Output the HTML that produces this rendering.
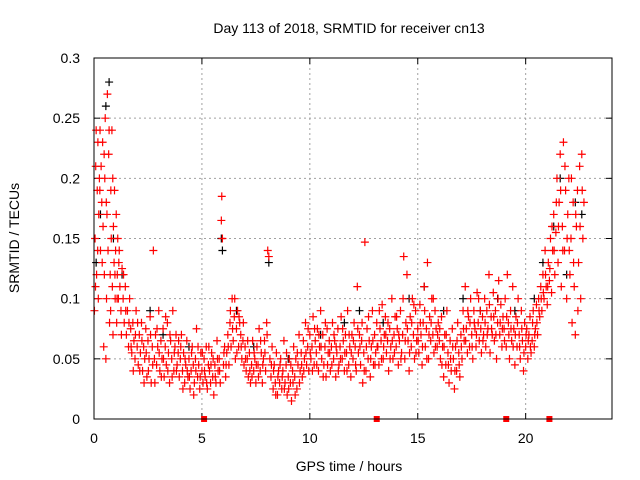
<!DOCTYPE html>
<html><head><meta charset="utf-8"><style>
html,body{margin:0;padding:0;background:#fff;}
svg{display:block;font-family:"Liberation Sans",sans-serif;}
</style></head><body>
<svg id="chart" width="640" height="480" viewBox="0 0 640 480">
<text x="349" y="33" font-size="14" text-anchor="middle">Day 113 of 2018, SRMTID for receiver cn13</text>
<text x="349" y="471" font-size="14" text-anchor="middle">GPS time / hours</text>
<text transform="translate(19,238) rotate(-90)" font-size="14" text-anchor="middle">SRMTID / TECUs</text>
<g id="grid"></g>
<g id="ticks"></g>
<g id="black"></g>
<g id="red"></g>
<g id="marks"></g>
<rect x="94" y="58" width="518" height="361" fill="none" stroke="#000" stroke-width="1"/>
</svg>
<script>
const xTicks=[0,5,10,15,20];
const yTicks=[0,0.05,0.1,0.15,0.2,0.25,0.3];
const yTickLabels=["0","0.05","0.1","0.15","0.2","0.25","0.3"];
const gapMarkers=[5.1,13.1,19.1,21.1];
const blackSeries=[[0.1,0.13],[0.3,0.17],[0.55,0.26],[0.7,0.28],[0.9,0.15],[1.3,0.12],[2.6,0.09],[3.2,0.07],[4.4,0.06],[5.9,0.15],[5.95,0.14],[6.6,0.09],[7.4,0.06],[8.1,0.13],[9.0,0.05],[10.5,0.07],[11.6,0.08],[12.3,0.09],[13.4,0.08],[14.6,0.1],[15.3,0.11],[16.2,0.09],[17.1,0.1],[17.9,0.09],[18.7,0.1],[19.5,0.09],[20.4,0.1],[20.8,0.13],[21.3,0.16],[21.6,0.2],[21.9,0.12],[22.3,0.18],[22.6,0.17]];
const redSeries=[
[0.02,0.09],[0.05,0.15],[0.08,0.21],[0.1,0.24],[0.12,0.12],[0.15,0.19],[0.18,0.23],[0.2,0.1],[0.22,0.17],[0.25,0.2],[0.28,0.24],[0.3,0.14],[0.33,0.21],[0.36,0.18],[0.4,0.23],[0.42,0.16],[0.45,0.06],[0.48,0.12],[0.5,0.2],[0.52,0.25],[0.55,0.05],[0.58,0.1],[0.6,0.17],[0.62,0.27],[0.65,0.14],[0.68,0.22],[0.7,0.24],[0.72,0.08],[0.75,0.12],[0.78,0.19],[0.8,0.15],[0.83,0.24],[0.85,0.11],[0.88,0.07],[0.9,0.16],[0.93,0.13],[0.95,0.19],[0.98,0.1],[1.0,0.14],[1.03,0.17],[1.05,0.08],[1.08,0.12],[1.1,0.15],[1.13,0.1],[1.15,0.13],[1.2,0.11],[1.25,0.09],[1.3,0.125],[1.35,0.1],[1.4,0.08],[1.45,0.11],[1.5,0.07],
[1.55,0.09],[1.6,0.06],[1.65,0.1],[1.7,0.075],[1.75,0.055],[1.8,0.08],[1.85,0.065],[1.9,0.05],[1.95,0.09],[2.0,0.06],[2.05,0.045],[2.1,0.07],[2.15,0.055],[2.2,0.08],[2.25,0.04],[2.3,0.06],[2.35,0.05],[2.4,0.075],[2.45,0.035],[2.5,0.065],[2.55,0.05],[2.6,0.085],[2.65,0.03],[2.7,0.06],[2.75,0.14],[2.8,0.05],[2.85,0.07],[2.9,0.045],[2.95,0.06],[3.0,0.09],[3.05,0.04],[3.1,0.065],[3.15,0.05],[3.2,0.075],[3.25,0.035],[3.3,0.06],[3.35,0.045],[3.4,0.08],[3.45,0.055],[3.5,0.03],[3.55,0.065],[3.6,0.05],[3.65,0.09],[3.7,0.04],[3.75,0.06],[3.8,0.07],[3.85,0.045],[3.9,0.055],[3.95,0.035],
[4.0,0.05],[4.05,0.07],[4.1,0.04],[4.15,0.055],[4.2,0.03],[4.25,0.045],[4.3,0.065],[4.35,0.035],[4.4,0.05],[4.45,0.025],[4.5,0.04],[4.55,0.06],[4.6,0.045],[4.65,0.03],[4.7,0.05],[4.75,0.075],[4.8,0.035],[4.85,0.045],[4.9,0.025],[4.95,0.055],[5.0,0.04],[5.05,0.03],[5.1,0.05],[5.15,0.035],[5.2,0.06],[5.25,0.025],[5.3,0.045],[5.35,0.04],[5.4,0.03],[5.45,0.055],[5.5,0.035],[5.55,0.02],[5.6,0.045],[5.65,0.03],[5.7,0.065],[5.75,0.04],[5.8,0.05],[5.85,0.03],[5.9,0.165],[5.92,0.185],[5.95,0.15],[6.0,0.045],[6.05,0.06],[6.1,0.035],[6.15,0.055],[6.2,0.07],[6.25,0.045],[6.3,0.08],[6.35,0.06],[6.4,0.1],[6.45,0.065],[6.5,0.085],[6.55,0.05],[6.6,0.075],[6.65,0.09],[6.7,0.06],[6.75,0.08],[6.8,0.07],[6.85,0.05],[6.9,0.065],[6.95,0.045],
[7.0,0.06],[7.05,0.04],[7.1,0.05],[7.15,0.035],[7.2,0.055],[7.25,0.03],[7.3,0.045],[7.35,0.065],[7.4,0.04],[7.45,0.05],[7.5,0.03],[7.55,0.06],[7.6,0.045],[7.65,0.075],[7.7,0.04],[7.75,0.055],[7.8,0.03],[7.85,0.05],[7.9,0.065],[7.95,0.04],[8.0,0.08],[8.05,0.14],[8.1,0.135],[8.15,0.05],[8.2,0.035],[8.25,0.06],[8.3,0.025],[8.35,0.045],[8.4,0.03],[8.45,0.055],[8.5,0.02],[8.55,0.04],[8.6,0.03],[8.65,0.05],[8.7,0.025],[8.75,0.04],[8.8,0.065],[8.85,0.03],[8.9,0.045],[8.95,0.02],[9.0,0.035],[9.05,0.05],[9.1,0.03],[9.15,0.015],[9.2,0.04],[9.25,0.06],[9.3,0.035],[9.35,0.05],[9.4,0.025],[9.45,0.045],[9.5,0.07],[9.55,0.04],[9.6,0.055],[9.65,0.035],[9.7,0.065],[9.75,0.05],[9.8,0.08],[9.85,0.045],[9.9,0.06],[9.95,0.04],
[10.0,0.07],[10.05,0.05],[10.1,0.06],[10.15,0.085],[10.2,0.045],[10.25,0.065],[10.3,0.055],[10.35,0.075],[10.4,0.04],[10.45,0.06],[10.5,0.09],[10.55,0.05],[10.6,0.07],[10.65,0.045],[10.7,0.06],[10.75,0.035],[10.8,0.075],[10.85,0.055],[10.9,0.065],[10.95,0.04],[11.0,0.06],[11.05,0.08],[11.1,0.05],[11.15,0.065],[11.2,0.035],[11.25,0.055],[11.3,0.075],[11.35,0.045],[11.4,0.06],[11.45,0.085],[11.5,0.05],[11.55,0.065],[11.6,0.04],[11.65,0.07],[11.7,0.055],[11.75,0.09],[11.8,0.045],[11.85,0.06],[11.9,0.035],[11.95,0.07],
[12.0,0.05],[12.05,0.08],[12.1,0.06],[12.15,0.04],[12.2,0.11],[12.25,0.055],[12.3,0.07],[12.35,0.045],[12.4,0.065],[12.45,0.03],[12.5,0.055],[12.55,0.147],[12.6,0.04],[12.65,0.075],[12.7,0.05],[12.75,0.065],[12.8,0.035],[12.85,0.06],[12.9,0.09],[12.95,0.045],[13.0,0.07],[13.05,0.055],[13.1,0.08],[13.15,0.06],[13.2,0.045],[13.25,0.075],[13.3,0.065],[13.35,0.095],[13.4,0.05],[13.45,0.07],[13.5,0.085],[13.55,0.055],[13.6,0.065],[13.65,0.04],[13.7,0.075],[13.75,0.06],[13.8,0.1],[13.85,0.05],[13.9,0.07],[13.95,0.085],
[14.0,0.06],[14.05,0.075],[14.1,0.045],[14.15,0.065],[14.2,0.09],[14.25,0.055],[14.3,0.07],[14.35,0.135],[14.4,0.05],[14.45,0.08],[14.5,0.12],[14.55,0.065],[14.6,0.04],[14.65,0.085],[14.7,0.06],[14.75,0.1],[14.8,0.07],[14.85,0.05],[14.9,0.09],[14.95,0.065],[15.0,0.075],[15.05,0.055],[15.1,0.095],[15.15,0.07],[15.2,0.045],[15.25,0.08],[15.3,0.11],[15.35,0.06],[15.4,0.075],[15.45,0.13],[15.5,0.05],[15.55,0.085],[15.6,0.065],[15.65,0.1],[15.7,0.07],[15.75,0.055],[15.8,0.09],[15.85,0.075],[15.9,0.06],[15.95,0.08],
[16.0,0.065],[16.05,0.05],[16.1,0.085],[16.15,0.06],[16.2,0.035],[16.25,0.07],[16.3,0.045],[16.35,0.09],[16.4,0.055],[16.45,0.03],[16.5,0.065],[16.55,0.04],[16.6,0.075],[16.65,0.05],[16.7,0.025],[16.75,0.06],[16.8,0.04],[16.85,0.08],[16.9,0.055],[16.95,0.035],[17.0,0.07],[17.05,0.05],[17.1,0.09],[17.15,0.065],[17.2,0.11],[17.25,0.075],[17.3,0.055],[17.35,0.085],[17.4,0.06],[17.45,0.1],[17.5,0.07],[17.55,0.05],[17.6,0.09],[17.65,0.075],[17.7,0.06],[17.75,0.105],[17.8,0.08],[17.85,0.065],[17.9,0.09],[17.95,0.055],
[18.0,0.085],[18.05,0.07],[18.1,0.1],[18.15,0.06],[18.2,0.09],[18.25,0.075],[18.3,0.12],[18.35,0.055],[18.4,0.085],[18.45,0.07],[18.5,0.105],[18.55,0.065],[18.6,0.09],[18.65,0.05],[18.7,0.08],[18.75,0.115],[18.8,0.07],[18.85,0.095],[18.9,0.06],[18.95,0.085],[19.0,0.075],[19.05,0.1],[19.1,0.06],[19.15,0.12],[19.2,0.08],[19.25,0.05],[19.3,0.09],[19.35,0.065],[19.4,0.11],[19.45,0.075],[19.5,0.045],[19.55,0.085],[19.6,0.06],[19.65,0.1],[19.7,0.07],[19.75,0.05],[19.8,0.09],[19.85,0.065],[19.9,0.04],[19.95,0.08],
[20.0,0.06],[20.05,0.075],[20.1,0.05],[20.15,0.07],[20.2,0.085],[20.25,0.055],[20.3,0.065],[20.35,0.09],[20.4,0.06],[20.45,0.075],[20.5,0.095],[20.55,0.07],[20.6,0.1],[20.65,0.085],[20.7,0.11],[20.75,0.09],[20.8,0.12],[20.85,0.1],[20.9,0.14],[20.95,0.11],[21.0,0.095],[21.05,0.13],[21.1,0.115],[21.15,0.15],[21.2,0.105],[21.25,0.14],[21.3,0.17],[21.35,0.12],[21.4,0.155],[21.45,0.2],[21.5,0.13],[21.55,0.18],[21.6,0.22],[21.65,0.11],[21.7,0.16],[21.75,0.23],[21.8,0.14],[21.85,0.19],[21.9,0.1],[21.95,0.17],
[22.0,0.2],[22.05,0.12],[22.1,0.15],[22.15,0.08],[22.2,0.18],[22.25,0.11],[22.3,0.07],[22.35,0.16],[22.4,0.19],[22.45,0.13],[22.5,0.21],[22.55,0.1],[22.6,0.22],[22.65,0.15],[22.7,0.18]
];
const redSeriesExtra=[
[0.07,0.11],[0.17,0.14],[0.27,0.19],[0.38,0.13],[0.47,0.22],[0.57,0.18],[0.77,0.09],[0.87,0.2],[0.97,0.12],[1.07,0.1],[1.17,0.14],[1.27,0.07],[1.37,0.12],[1.47,0.09],
[1.62,0.08],[1.72,0.06],[1.82,0.04],[1.92,0.07],[2.02,0.08],[2.12,0.04],[2.22,0.065],[2.32,0.03],[2.42,0.055],[2.52,0.04],[2.62,0.07],[2.72,0.045],[2.82,0.03],[2.92,0.075],[3.02,0.055],[3.12,0.035],[3.22,0.05],[3.32,0.085],[3.42,0.04],[3.52,0.07],[3.62,0.035],[3.72,0.055],[3.82,0.04],[3.92,0.065],
[4.02,0.06],[4.12,0.025],[4.22,0.05],[4.32,0.04],[4.42,0.035],[4.52,0.055],[4.62,0.02],[4.72,0.04],[4.82,0.06],[4.92,0.035],[5.02,0.055],[5.12,0.04],[5.22,0.03],[5.32,0.06],[5.42,0.045],[5.52,0.05],[5.62,0.035],[5.72,0.05],[5.82,0.04],[6.02,0.055],[6.12,0.045],[6.22,0.06],[6.32,0.09],[6.42,0.075],[6.52,0.1],[6.62,0.055],[6.72,0.085],[6.82,0.06],[6.92,0.08],
[7.02,0.05],[7.12,0.065],[7.22,0.04],[7.32,0.035],[7.42,0.055],[7.52,0.045],[7.62,0.035],[7.72,0.065],[7.82,0.045],[7.92,0.055],[8.02,0.07],[8.22,0.045],[8.32,0.04],[8.42,0.02],[8.52,0.035],[8.62,0.045],[8.72,0.035],[8.82,0.025],[8.92,0.055],[9.02,0.025],[9.12,0.045],[9.22,0.03],[9.32,0.02],[9.42,0.055],[9.52,0.03],[9.62,0.045],[9.72,0.04],[9.82,0.055],[9.92,0.075],
[10.02,0.055],[10.12,0.04],[10.22,0.075],[10.32,0.045],[10.42,0.07],[10.52,0.06],[10.62,0.035],[10.72,0.08],[10.82,0.045],[10.92,0.055],[11.02,0.045],[11.12,0.07],[11.22,0.06],[11.32,0.04],[11.42,0.05],[11.52,0.075],[11.62,0.055],[11.72,0.04],[11.82,0.07],[11.92,0.055],
[12.02,0.065],[12.12,0.045],[12.22,0.075],[12.32,0.06],[12.42,0.08],[12.52,0.04],[12.62,0.06],[12.72,0.085],[12.82,0.05],[12.92,0.065],[13.02,0.045],[13.12,0.06],[13.22,0.09],[13.32,0.05],[13.42,0.06],[13.52,0.07],[13.62,0.08],[13.72,0.05],[13.82,0.065],[13.92,0.055],
[14.02,0.085],[14.12,0.07],[14.22,0.05],[14.32,0.1],[14.42,0.065],[14.52,0.075],[14.62,0.055],[14.72,0.08],[14.82,0.095],[14.92,0.055],[15.02,0.065],[15.12,0.08],[15.22,0.06],[15.32,0.09],[15.42,0.05],[15.52,0.07],[15.62,0.08],[15.72,0.1],[15.82,0.06],[15.92,0.07],
[16.02,0.075],[16.12,0.045],[16.22,0.06],[16.32,0.07],[16.42,0.045],[16.52,0.05],[16.62,0.06],[16.72,0.04],[16.82,0.065],[16.92,0.045],[17.02,0.06],[17.12,0.075],[17.22,0.065],[17.32,0.09],[17.42,0.08],[17.52,0.06],[17.62,0.08],[17.72,0.07],[17.82,0.1],[17.92,0.075],
[18.02,0.065],[18.12,0.08],[18.22,0.07],[18.32,0.095],[18.42,0.075],[18.52,0.085],[18.62,0.07],[18.72,0.1],[18.82,0.08],[18.92,0.075],[19.02,0.065],[19.12,0.085],[19.22,0.07],[19.32,0.075],[19.42,0.06],[19.52,0.07],[19.62,0.08],[19.72,0.06],[19.82,0.075],[19.92,0.055],
[20.02,0.07],[20.12,0.065],[20.22,0.06],[20.32,0.08],[20.42,0.07],[20.52,0.08],[20.62,0.09],[20.72,0.1],[20.82,0.105],[20.92,0.12],[21.02,0.11],[21.12,0.125],[21.22,0.16],[21.32,0.14],[21.42,0.18],[21.52,0.16],[21.62,0.19],[21.72,0.14],[21.82,0.21],[21.92,0.15],
[22.02,0.14],[22.12,0.2],[22.22,0.13],[22.32,0.17],[22.42,0.09],[22.52,0.16],[22.62,0.19]
];
const X0=94,X1=612,Y0=419,Y1=58,XMAX=24,YMAX=0.3;
const xs=t=>X0+(t/XMAX)*(X1-X0);
const ys=v=>Y0-(v/YMAX)*(Y0-Y1);
const NS="http://www.w3.org/2000/svg";
function mk(tag,attrs,parent){const e=document.createElementNS(NS,tag);for(const k in attrs)e.setAttribute(k,attrs[k]);parent.appendChild(e);return e;}
const grid=document.getElementById('grid'),ticks=document.getElementById('ticks');
xTicks.forEach(t=>{
  const x=xs(t);
  if(t>0){const g=mk('line',{x1:x,x2:x,y1:Y1,y2:Y0,stroke:'#a0a0a0','stroke-dasharray':'2,3'},grid);
  
  }
  const l=mk('text',{x:x,y:Y0+24,'font-size':14,'text-anchor':'middle'},ticks);
  l.textContent=t;
  
  
  mk('line',{x1:x,x2:x,y1:Y0,y2:Y0-6,stroke:'#000'},ticks);
  mk('line',{x1:x,x2:x,y1:Y1,y2:Y1+6,stroke:'#000'},ticks);
});
yTicks.forEach((v,i)=>{
  const y=ys(v);
  if(v>0&&v<YMAX){const g=mk('line',{x1:X0,x2:X1,y1:y,y2:y,stroke:'#a0a0a0','stroke-dasharray':'2,3'},grid);
  
  }
  const l=mk('text',{x:X0-14,y:y+5,'font-size':14,'text-anchor':'end'},ticks);
  l.textContent=yTickLabels[i];
  
  
  mk('line',{x1:X0,x2:X0+6,y1:y,y2:y,stroke:'#000'},ticks);
  mk('line',{x1:X1,x2:X1-6,y1:y,y2:y,stroke:'#000'},ticks);
});
function cross(p,parent,color,name){
  const x=xs(p[0]),y=ys(p[1]);
  const e=mk('path',{d:`M${x-4},${y}H${x+4}M${x},${y-4}V${y+4}`,stroke:color,'stroke-width':1.2,fill:'none'},parent);
  
  
}
blackSeries.forEach(p=>cross(p,document.getElementById('black'),'#000','black-point'));
redSeries.forEach(p=>cross(p,document.getElementById('red'),'#ff0000','red-point'));
redSeriesExtra.forEach(p=>cross(p,document.getElementById('red'),'#ff0000','red-point'));
gapMarkers.forEach(t=>{
  const r=mk('rect',{x:xs(t)-3,y:Y0-3,width:6,height:6,fill:'#ff0000'},document.getElementById('marks'));
  
  
});
</script>
</body></html>
